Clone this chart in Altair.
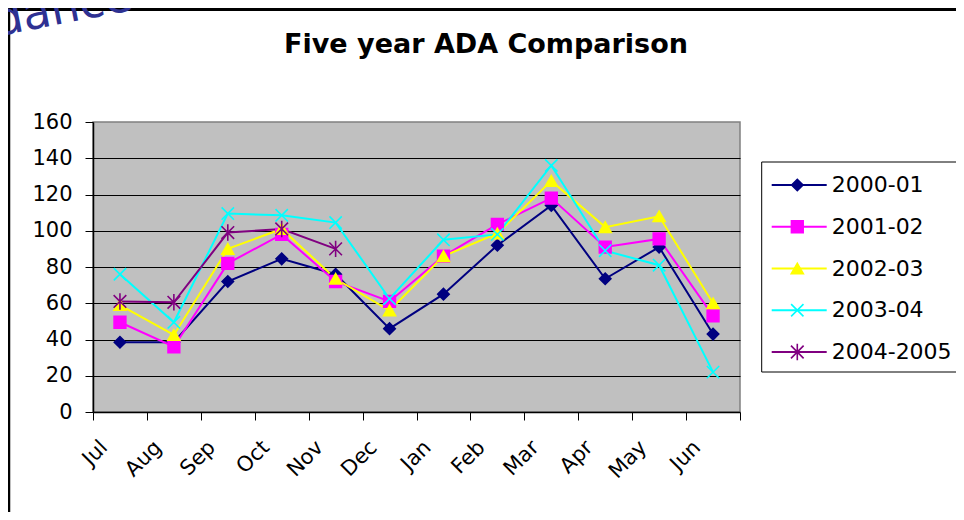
import altair as alt
import pandas as pd

months = ["Jul", "Aug", "Sep", "Oct", "Nov", "Dec", "Jan", "Feb", "Mar", "Apr", "May", "Jun"]
series = ["2000-01", "2001-02", "2002-03", "2003-04", "2004-2005"]

v_2000_01 = [38.5, 38.5, 72, 84.5, 76, 46, 65, 92, 114, 73.5, 91, 43]
v_2001_02 = [49.5, 36, 82, 98, 72, 61, 86, 103.5, 118, 91, 95.5, 53]
v_2002_03 = [59, 42.5, 90, 101, 73.5, 56, 86, 98.5, 127.5, 102, 108, 60]
v_2003_04 = [76, 49.5, 109.5, 108.5, 104.5, 62.5, 95, 98, 136, 89, 81, 22]
v_2004_2005 = [61, 60.5, 99, 101, 90, None, None, None, None, None, None, None]

colors = ["#000080", "#FF00FF", "#FFFF00", "#00FFFF", "#800080"]
shapes = ["diamond", "square", "triangle-up",
          "M-1,-1L1,1M-1,1L1,-1",
          "M-1,-1L1,1M-1,1L1,-1M0,-1.3L0,1.3"]
sizes = [130, 160, 170, 150, 150]

y_ticks = [0, 20, 40, 60, 80, 100, 120, 140, 160]
title_text = "Five year ADA Comparison"

rows = []
for s, vals in zip(series, [v_2000_01, v_2001_02, v_2002_03, v_2003_04, v_2004_2005]):
    for i, (m, v) in enumerate(zip(months, vals)):
        if v is not None:
            rows.append({"month": m, "series": s, "value": v, "idx": i})
df = pd.DataFrame(rows)
leg_df = pd.DataFrame({"series": series})

FONT = "DejaVu Sans"

col_scale = alt.Scale(domain=series, range=colors)
shape_scale = alt.Scale(domain=series, range=shapes)
size_scale = alt.Scale(domain=series, range=sizes)

x_enc = alt.X("month:N", sort=months, bandPosition=0.5,
              scale=alt.Scale(type="band", domain=months, paddingInner=0, paddingOuter=0),
              axis=alt.Axis(title=None, tickBand="extent", tickSize=8, tickColor="black",
                            domainColor="black", domainWidth=1.5, labelAngle=-45,
                            labelAlign="right", labelBaseline="middle", labelPadding=24,
                            labelOffset=-16, labelFontSize=21, labelFont=FONT,
                            labelColor="black", grid=False))
y_enc = alt.Y("value:Q",
              scale=alt.Scale(domain=[0, 160], nice=False, zero=True),
              axis=alt.Axis(title=None, values=y_ticks, tickSize=8, tickColor="black",
                            domainColor="black", domainWidth=1.5, labelPadding=13,
                            labelFontSize=21, labelFont=FONT, labelColor="black",
                            grid=True,
                            gridColor={"condition": {"test": "datum.value >= 160 || datum.value <= 0",
                                                     "value": "transparent"},
                                       "value": "black"},
                            gridWidth=1))

base = alt.Chart(df)
lines = base.mark_line(strokeWidth=2).encode(
    x=x_enc, y=y_enc,
    stroke=alt.Stroke("series:N", scale=col_scale, legend=None),
    order=alt.Order("idx:Q"),
)
points = base.mark_point(filled=True, strokeWidth=1.6, opacity=1).encode(
    x=x_enc, y=y_enc,
    fill=alt.Fill("series:N", scale=col_scale, legend=None),
    stroke=alt.Stroke("series:N", scale=col_scale, legend=None),
    shape=alt.Shape("series:N", scale=shape_scale, legend=None),
    size=alt.Size("series:N", scale=size_scale, legend=None),
)
main = alt.layer(lines, points)

# legend
leg_y = alt.Y("series:N", scale=alt.Scale(type="point", domain=series, range=[63, 230], padding=0),
              axis=None)
one = alt.Chart(pd.DataFrame({"a": [0]}))
leg_box = one.mark_rect(fill="white", stroke="black", strokeWidth=1).encode(
    x=alt.value(668.7), x2=alt.value(867), y=alt.value(40), y2=alt.value(250))
leg_rule = alt.Chart(leg_df).mark_rule(strokeWidth=2).encode(
    x=alt.value(678.7), x2=alt.value(733.7), y=leg_y,
    stroke=alt.Stroke("series:N", scale=col_scale, legend=None))
leg_pt = alt.Chart(leg_df).mark_point(filled=True, strokeWidth=1.6, opacity=1).encode(
    x=alt.value(704.3), y=leg_y,
    fill=alt.Fill("series:N", scale=col_scale, legend=None),
    stroke=alt.Stroke("series:N", scale=col_scale, legend=None),
    shape=alt.Shape("series:N", scale=shape_scale, legend=None),
    size=alt.Size("series:N", scale=size_scale, legend=None))
leg_text = alt.Chart(leg_df).mark_text(align="left", baseline="middle", fontSize=22,
                                       font=FONT, color="black").encode(
    x=alt.value(738.7), y=leg_y, text="series:N")
legend = alt.layer(leg_rule, leg_pt, leg_text)

# title, frame lines of the slide and the cut-off watermark
title = one.mark_text(text=title_text, fontSize=27, font=FONT, fontWeight="bold",
                      color="black", align="center", baseline="alphabetic").encode(
    x=alt.value(393), y=alt.value(-69))
border_top = one.mark_rule(color="black", strokeWidth=3).encode(
    x=alt.value(-85), x2=alt.value(863), y=alt.value(-112.5))
border_left = one.mark_rule(color="black", strokeWidth=2.5).encode(
    x=alt.value(-84), y=alt.value(-114), y2=alt.value(390))
watermark = one.mark_text(text="Attendance", angle=349, fontSize=46, font=FONT,
                          color="#2E3192", align="left", baseline="alphabetic").encode(
    x=alt.value(-218), y=alt.value-62 if False else alt.value(-62))

chart = alt.layer(leg_box, main, legend, title, border_top, border_left, watermark).resolve_scale(
    y="independent"
).properties(
    width=647, height=290,
    autosize=alt.AutoSizeParams(type="none"),
    padding={"left": 85, "top": 114, "right": 216, "bottom": 100},
    background="white",
).configure_view(fill="#C0C0C0", stroke="#808080", strokeWidth=1.5)

chart.save("out.html", embed_options={"renderer": "svg", "actions": False})
